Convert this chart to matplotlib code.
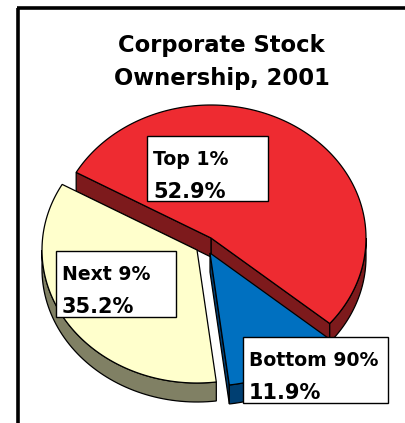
import numpy as np
import matplotlib
matplotlib.use("Agg")
import matplotlib.pyplot as plt
from matplotlib.patches import Polygon, Rectangle

# data
groups = ["Top 1%", "Next 9%", "Bottom 90%"]
shares = [52.9, 35.2, 11.9]
top_colors = ["#EE2B31", "#FFFFCC", "#0070C0"]
side_colors = ["#7D1A1C", "#808064", "#003F72"]

title_lines = ["Corporate Stock", "Ownership, 2001"]

# pie geometry (pixel space)
cx, cy = 211, 238
rx, ry = 155, 133
depth = 19
start_angle = -40
offsets = [(0, 0), (-14, 12), (-1, 15)]
label_boxes = [(147, 136, 121, 65), (56, 251, 120, 66), (243, 337, 145, 66)]


def pt(ang, off, z=0):
    a = np.radians(ang)
    return (cx + off[0] + rx * np.cos(a), cy + off[1] - ry * np.sin(a) + z)


def visible_ranges(a0, a1):
    # parts of [a0, a1] facing the viewer (lower half of the ellipse)
    out = []
    for k in range(-2, 3):
        lo, hi = 180 + 360 * k, 360 + 360 * k
        s, e = max(a0, lo), min(a1, hi)
        if e > s:
            out.append((s, e))
    return out


fig = plt.figure(figsize=(4.06, 4.23), dpi=100)
ax = fig.add_axes([0, 0, 1, 1])
ax.set_xlim(0, 406)
ax.set_ylim(423, 0)
ax.axis("off")

# frame
ax.plot([18.5, 18.5], [423, 8], color="black", lw=2.6, solid_capstyle="butt")
ax.plot([17.2, 406], [8, 8], color="black", lw=2.6, solid_capstyle="butt")

fracs = np.array(shares) / sum(shares)
bounds = start_angle + 360 * np.concatenate([[0], np.cumsum(fracs)])

for i in range(len(shares)):
    a0, a1 = bounds[i], bounds[i + 1]
    off = offsets[i]
    c_top = (cx + off[0], cy + off[1])
    c_bot = (c_top[0], c_top[1] + depth)

    # radial faces
    for ang, normal in [(a0, a0 - 90), (a1, a1 + 90)]:
        if np.sin(np.radians(normal)) < 0:
            poly = [c_top, pt(ang, off), pt(ang, off, depth), c_bot]
            ax.add_patch(Polygon(poly, closed=True, fc=side_colors[i],
                                 ec="black", lw=0.9))

    # outer curved face
    for s, e in visible_ranges(a0, a1):
        angs = np.linspace(s, e, 60)
        upper = [pt(a, off) for a in angs]
        lower = [pt(a, off, depth) for a in angs[::-1]]
        ax.add_patch(Polygon(upper + lower, closed=True, fc=side_colors[i],
                             ec="black", lw=0.9))

    # top surface
    angs = np.linspace(a0, a1, 200)
    poly = [c_top] + [pt(a, off) for a in angs]
    ax.add_patch(Polygon(poly, closed=True, fc=top_colors[i], ec="black", lw=0.9))

# labels
for i, (bx, by, bw, bh) in enumerate(label_boxes):
    ax.add_patch(Rectangle((bx, by), bw, bh, fc="white", ec="black", lw=1.0))
    ax.text(bx + 6, by + 29, groups[i], fontsize=13.6, fontweight="bold",
            family="DejaVu Sans", va="baseline", ha="left")
    ax.text(bx + 6, by + 62, f"{shares[i]:.1f}%", fontsize=15, fontweight="bold",
            family="DejaVu Sans", va="baseline", ha="left")

# title
ax.text(221, 52, title_lines[0], fontsize=16.3, fontweight="bold",
        family="DejaVu Sans", va="baseline", ha="center")
ax.text(222, 85, title_lines[1], fontsize=16.3, fontweight="bold",
        family="DejaVu Sans", va="baseline", ha="center")

plt.savefig("out.png", dpi=100)
